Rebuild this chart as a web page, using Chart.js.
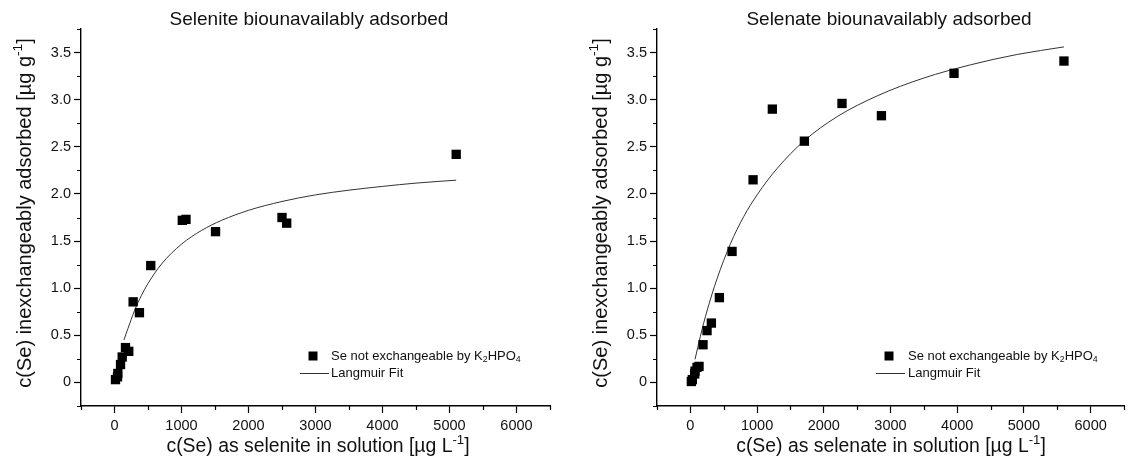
<!DOCTYPE html>
<html>
<head>
<meta charset="utf-8">
<script src="https://cdn.jsdelivr.net/npm/chart.js@4"></script>
<style>
body { margin: 0; background: #fff; }
.box { position: absolute; top: 0; width: 567px; height: 466px; }
</style>
</head>
<body>
<div class="box" style="left:0"><canvas id="chartLeft" width="567" height="466"></canvas></div>
<div class="box" style="left:567px"><canvas id="chartRight" width="567" height="466"></canvas></div>
<script>
// selenite measured points
const seliteX = [15, 45, 50, 90, 115, 164, 213, 278, 372, 541, 1012, 1067, 1508, 2500, 2570, 5100];
const seliteY = [0.03, 0.06, 0.095, 0.19, 0.27, 0.37, 0.33, 0.855, 0.74, 1.24, 1.72, 1.73, 1.60, 1.75, 1.69, 2.42];
// selenite Langmuir fit
const seliteFitX = [140, 200, 300, 400, 500, 700, 1000, 1300, 1600, 2000, 2500, 3000, 3500, 4000, 4500, 5100];
const seliteFitY = [0.45, 0.57, 0.765, 0.92, 1.05, 1.255, 1.467, 1.613, 1.72, 1.826, 1.92, 1.99, 2.04, 2.08, 2.115, 2.146];

// selenate measured points
const selenateX = [15, 30, 65, 70, 100, 130, 190, 250, 315, 435, 625, 940, 1229, 1709, 2273, 2864, 3952, 5600];
const selenateY = [0.01, 0.03, 0.09, 0.12, 0.16, 0.17, 0.40, 0.55, 0.63, 0.90, 1.39, 2.15, 2.90, 2.56, 2.96, 2.83, 3.28, 3.41];
// selenate Langmuir fit
const selenateFitX = [70, 150, 250, 400, 600, 800, 1000, 1300, 1700, 2200, 2800, 3500, 4200, 4900, 5600];
const selenateFitY = [0.245, 0.49, 0.76, 1.10, 1.47, 1.76, 1.99, 2.27, 2.56, 2.82, 3.04, 3.23, 3.37, 3.48, 3.56];

// axis ticks
const xMajor = [0, 1000, 2000, 3000, 4000, 5000, 6000];
const xMinor = [-500, 500, 1500, 2500, 3500, 4500, 5500, 6500];
const yMajor = [0, 0.5, 1.0, 1.5, 2.0, 2.5, 3.0, 3.5];
const yMinor = [-0.25, 0.25, 0.75, 1.25, 1.75, 2.25, 2.75, 3.25, 3.75];

const FONT = "'Liberation Sans', Arial, sans-serif";

function toPoints(xs, ys) {
  return xs.map((x, i) => ({ x: x, y: ys[i] }));
}

// draws text with sub/superscript pieces, parts = [[text, mode], ...]
function drawRich(ctx, parts, x, y, size, align) {
  const sizeOf = p => (p[1] ? size * 0.68 : size);
  let w = 0;
  parts.forEach(p => {
    ctx.font = sizeOf(p) + 'px ' + FONT;
    w += ctx.measureText(p[0]).width;
  });
  let cx = align === 'center' ? x - w / 2 : x;
  ctx.textAlign = 'left';
  ctx.textBaseline = 'middle';
  parts.forEach(p => {
    ctx.font = sizeOf(p) + 'px ' + FONT;
    let dy = 0;
    if (p[1] === 'sup') dy = -size * 0.36;
    if (p[1] === 'sub') dy = size * 0.28;
    ctx.fillText(p[0], cx, y + dy);
    cx += ctx.measureText(p[0]).width;
  });
}

const decorPlugin = {
  id: 'decor',
  afterDraw(chart) {
    const o = chart.options.plugins.decor;
    const ctx = chart.ctx;
    const xs = chart.scales.x, ys = chart.scales.y;
    const area = chart.chartArea;
    ctx.save();
    // minor ticks
    ctx.strokeStyle = '#000';
    ctx.lineWidth = 1.2;
    ctx.beginPath();
    xMinor.forEach(v => {
      const px = Math.round(xs.getPixelForValue(v)) + 0.5;
      ctx.moveTo(px, area.bottom);
      ctx.lineTo(px, area.bottom + 4);
    });
    yMinor.forEach(v => {
      const py = Math.round(ys.getPixelForValue(v)) + 0.5;
      ctx.moveTo(area.left - 4, py);
      ctx.lineTo(area.left, py);
    });
    ctx.stroke();

    ctx.fillStyle = '#111';
    // title
    drawRich(ctx, [[o.title, '']], o.titleX, 20, 19, 'center');
    // x axis title
    drawRich(ctx, [[o.xTitle, ''], ['-1', 'sup'], [']', '']], o.xTitleX, 447, 19.4, 'center');
    // y axis title
    ctx.save();
    ctx.translate(o.yTitleX, 213);
    ctx.rotate(-Math.PI / 2);
    drawRich(ctx, [['c(Se) inexchangeably adsorbed [\u00b5g g', ''], ['-1', 'sup'], [']', '']], 0, 0, 20, 'center');
    ctx.restore();

    // legend
    const lg = o.legend;
    ctx.fillStyle = '#000';
    ctx.fillRect(lg.markX - 4.5, 356 - 4.5, 9, 9);
    ctx.strokeStyle = '#333';
    ctx.lineWidth = 1;
    ctx.beginPath();
    ctx.moveTo(lg.lineX0, 373.5);
    ctx.lineTo(lg.lineX1, 373.5);
    ctx.stroke();
    ctx.fillStyle = '#111';
    drawRich(ctx, [['Se not exchangeable by K', ''], ['2', 'sub'], ['HPO', ''], ['4', 'sub']], lg.textX, 356, 13, 'left');
    drawRich(ctx, [['Langmuir Fit', '']], lg.textX, 373, 13, 'left');
    ctx.restore();
  }
};

function buildChart(id, pts, fit, cfg) {
  const ctx = document.getElementById(id).getContext('2d');
  return new Chart(ctx, {
    type: 'scatter',
    data: {
      datasets: [{
        label: 'Se not exchangeable by K2HPO4',
        data: pts,
        pointStyle: 'rect',
        pointRadius: 6.6,
        backgroundColor: '#000',
        borderColor: '#000',
        borderWidth: 0
      }, {
        label: 'Langmuir Fit',
        data: fit,
        showLine: true,
        pointRadius: 0,
        borderColor: '#333',
        borderWidth: 1,
        cubicInterpolationMode: 'monotone'
      }]
    },
    options: {
      responsive: false,
      animation: false,
      devicePixelRatio: 1,
      layout: { padding: { left: 0, top: 29, right: cfg.padRight, bottom: 0 } },
      plugins: {
        legend: { display: false },
        tooltip: { enabled: false },
        decor: cfg.decor
      },
      scales: {
        x: {
          type: 'linear',
          min: -500,
          max: 6500,
          afterBuildTicks: s => { s.ticks = xMajor.map(v => ({ value: v })); },
          afterFit: s => { s.height = 60; },
          border: { display: true, color: '#000', width: 1.4 },
          grid: { drawOnChartArea: false, drawTicks: true, tickLength: 7, tickColor: '#000', tickWidth: 1.2 },
          ticks: {
            autoSkip: false,
            maxRotation: 0,
            padding: 4,
            color: '#111',
            font: { family: FONT, size: 14.5 },
            callback: v => String(v)
          }
        },
        y: {
          type: 'linear',
          min: -0.25,
          max: 3.75,
          afterBuildTicks: s => { s.ticks = yMajor.map(v => ({ value: v })); },
          afterFit: s => { s.width = cfg.axisLeft; },
          border: { display: true, color: '#000', width: 1.4 },
          grid: { drawOnChartArea: false, drawTicks: true, tickLength: 7, tickColor: '#000', tickWidth: 1.2 },
          ticks: {
            autoSkip: false,
            padding: 3,
            color: '#111',
            font: { family: FONT, size: 14.5 },
            callback: v => (v === 0 ? '0' : v.toFixed(1))
          }
        }
      }
    },
    plugins: [decorPlugin]
  });
}

buildChart('chartLeft', toPoints(seliteX, seliteY), toPoints(seliteFitX, seliteFitY), {
  axisLeft: 81,
  padRight: 17,
  decor: {
    title: 'Selenite biounavailably adsorbed',
    titleX: 309,
    xTitle: 'c(Se) as selenite in solution [\u00b5g L',
    xTitleX: 318,
    yTitleX: 25,
    legend: { markX: 313, textX: 331, lineX0: 300, lineX1: 329 }
  }
});

buildChart('chartRight', toPoints(selenateX, selenateY), toPoints(selenateFitX, selenateFitY), {
  axisLeft: 90,
  padRight: 10,
  decor: {
    title: 'Selenate biounavailably adsorbed',
    titleX: 322,
    xTitle: 'c(Se) as selenate in solution [\u00b5g L',
    xTitleX: 324,
    yTitleX: 34,
    legend: { markX: 322, textX: 341, lineX0: 309, lineX1: 338 }
  }
});
</script>
</body>
</html>
